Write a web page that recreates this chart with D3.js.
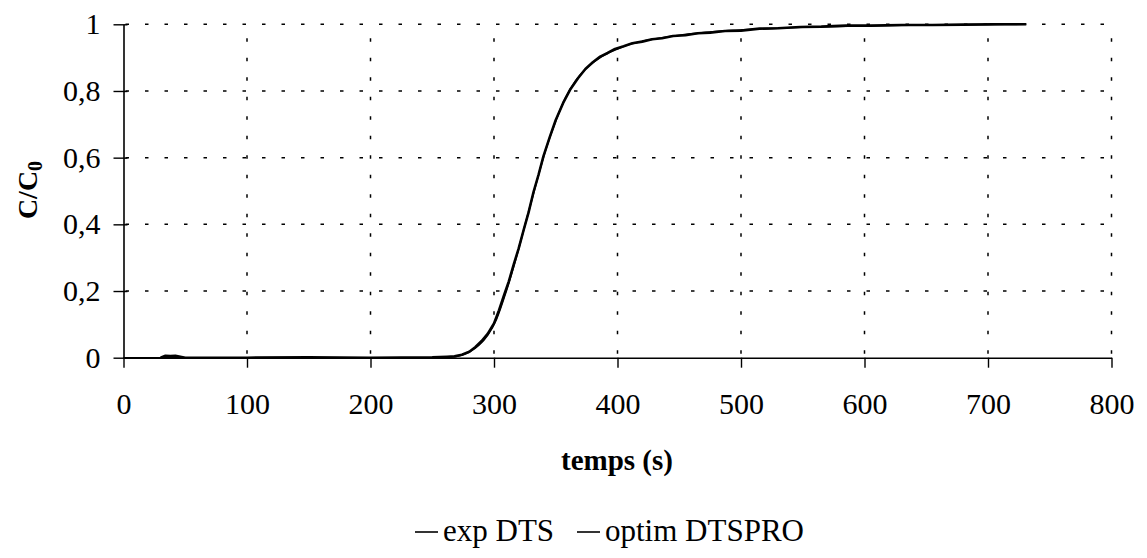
<!DOCTYPE html>
<html>
<head>
<meta charset="utf-8">
<script src="https://cdn.jsdelivr.net/npm/d3@7"></script>
<style>
  html, body { margin: 0; padding: 0; background: #fff; }
  svg { display: block; font-family: "Liberation Serif", "Times New Roman", serif; }
</style>
</head>
<body>
<svg id="chart" width="1147" height="558"></svg>
<script>
// ---- data ----
const xTicks = [0, 100, 200, 300, 400, 500, 600, 700, 800];
const yTicks = [0, 0.2, 0.4, 0.6, 0.8, 1];
const seriesNames = ["exp DTS", "optim DTSPRO"];

const expTime = [30, 34, 38, 42, 46, 50, 100, 150, 200, 250, 262, 268, 274, 280, 285, 290, 295, 300, 304, 308, 312, 316, 320, 324, 328, 332, 336, 340, 345, 350, 356, 362, 368, 374, 380, 386, 392, 398, 405, 412, 420, 428, 436, 445, 455, 465, 475, 487, 500, 515, 530, 548, 565, 585, 605, 630, 655, 680, 705, 731];
const expValue = [0, 0.006, 0.005, 0.006, 0.003, 0, 0, 0.001, 0, 0.001, 0.003, 0.004, 0.009, 0.018, 0.032, 0.05, 0.072, 0.103, 0.142, 0.186, 0.229, 0.28, 0.328, 0.383, 0.436, 0.497, 0.548, 0.604, 0.66, 0.713, 0.764, 0.806, 0.838, 0.866, 0.886, 0.903, 0.914, 0.926, 0.934, 0.943, 0.948, 0.955, 0.958, 0.965, 0.967, 0.973, 0.975, 0.98, 0.981, 0.987, 0.988, 0.992, 0.993, 0.996, 0.996, 0.998, 0.998, 0.999, 1.0, 1.0];

const optimTime = [0, 100, 200, 255, 265, 272, 280, 288, 295, 302, 310, 318, 326, 334, 342, 350, 358, 366, 374, 382, 390, 400, 410, 420, 435, 450, 470, 490, 520, 550, 600, 650, 700, 731];
const optimValue = [0, 0, 0, 0, 0.002, 0.006, 0.017, 0.038, 0.068, 0.115, 0.2, 0.3, 0.41, 0.52, 0.625, 0.71, 0.78, 0.83, 0.865, 0.89, 0.909, 0.926, 0.94, 0.949, 0.959, 0.967, 0.975, 0.981, 0.987, 0.991, 0.995, 0.998, 0.999, 1.0];

// ---- layout ----
const svg = d3.select("#chart");
const x0 = 123.5, x1 = 1111.5, yTop = 24.3, yBot = 357.7;
const x = d3.scaleLinear().domain([0, 800]).range([x0, x1]);
const y = d3.scaleLinear().domain([0, 1]).range([yBot, yTop]);
const fmt = d => d3.format("")(d).replace(".", ",");

// grid
const grid = svg.append("g").attr("stroke", "#000").attr("stroke-width", 1.5).attr("stroke-dasharray", "3.5,16");
grid.selectAll(".h").data(yTicks.filter(d => d > 0)).join("line")
  .attr("x1", x0 + 2).attr("x2", x1)
  .attr("y1", d => y(d)).attr("y2", d => y(d));
grid.selectAll(".v").data(xTicks.filter(d => d > 0)).join("line")
  .attr("x1", d => x(d)).attr("x2", d => x(d))
  .attr("y1", yBot - 4).attr("y2", yTop);

// axes
const yAxis = svg.append("g").attr("transform", `translate(${x0},0)`)
  .call(d3.axisLeft(y).tickValues(yTicks).tickFormat(fmt).tickSizeInner(10).tickSizeOuter(0).tickPadding(13));
const xAxis = svg.append("g").attr("transform", `translate(0,${yBot})`)
  .call(d3.axisBottom(x).tickValues(xTicks).tickFormat(d3.format("d")).tickSizeInner(10).tickSizeOuter(0).tickPadding(25));
[yAxis, xAxis].forEach(a => {
  a.select(".domain").attr("stroke", "#000").attr("stroke-width", 1.6);
  a.selectAll(".tick line").attr("stroke", "#000").attr("stroke-width", 1.4);
  a.selectAll("text").attr("fill", "#000").style("font-size", "30px").style("font-family", "Liberation Serif");
});
yAxis.selectAll(".tick line").attr("x2", 4).attr("x1", -10);

// lines
const line = d3.line().x(d => x(d[0])).y(d => y(d[1]));
svg.append("path")
  .datum(optimTime.map((t, i) => [t, optimValue[i]]))
  .attr("fill", "none").attr("stroke", "#000").attr("stroke-width", 1.6)
  .attr("d", line.curve(d3.curveMonotoneX));
svg.append("path")
  .attr("fill", "none").attr("stroke", "#000").attr("stroke-width", 2.6).attr("stroke-linejoin", "round")
  .attr("d", d3.line().x(d => x(d[0])).y(d => y(d[1]))(expTime.map((t, i) => [t, expValue[i]])));

// axis titles
svg.append("text").attr("x", 617).attr("y", 470).attr("text-anchor", "middle")
  .style("font-size", "29px").style("font-weight", "bold").text("temps (s)");
const yt = svg.append("text").attr("transform", "translate(37,190) rotate(-90)").attr("text-anchor", "middle")
  .style("font-size", "28px").style("font-weight", "bold");
yt.append("tspan").text("C/C");
yt.append("tspan").attr("dy", 5).style("font-size", "20px").text("0");

// legend
const legend = svg.append("g");
const legX = [415, 577];
seriesNames.forEach((name, i) => {
  legend.append("line").attr("x1", legX[i]).attr("x2", legX[i] + 23)
    .attr("y1", 532).attr("y2", 532).attr("stroke", "#000").attr("stroke-width", 1.6);
  legend.append("text").attr("x", legX[i] + 28).attr("y", 541)
    .style("font-size", "31px").text(name);
});
</script>
</body>
</html>
